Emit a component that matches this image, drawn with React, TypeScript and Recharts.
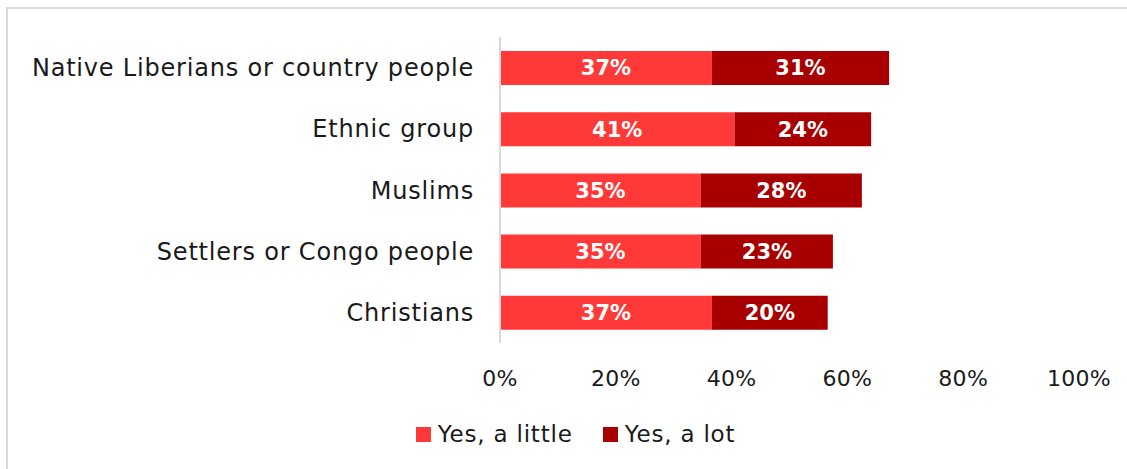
import React from 'react'
import { BarChart, Bar, XAxis, YAxis, Legend, LabelList } from 'recharts'

const categories = [
  'Native Liberians or country people',
  'Ethnic group',
  'Muslims',
  'Settlers or Congo people',
  'Christians',
]
const yesLittle = [36.6, 40.5, 34.7, 34.7, 36.6]
const yesLot = [30.6, 23.6, 27.8, 22.8, 20.0]
const littleLabels = ['37%', '41%', '35%', '35%', '37%']
const lotLabels = ['31%', '24%', '28%', '23%', '20%']
const xTicks = [0, 20, 40, 60, 80, 100]

const LIGHT = '#FF3838'
const DARK = '#A80000'
const FONT = '"DejaVu Sans", sans-serif'

const data = categories.map((name, i) => ({
  name,
  little: yesLittle[i],
  lot: yesLot[i],
  littleLabel: littleLabels[i],
  lotLabel: lotLabels[i],
}))

function LegendContent() {
  const items = [
    { label: 'Yes, a little', color: LIGHT },
    { label: 'Yes, a lot', color: DARK },
  ]
  return (
    <div style={{ display: 'flex', justifyContent: 'center', gap: 30, fontFamily: FONT, fontSize: 23, letterSpacing: 0.8, color: '#1a1a1a', paddingLeft: 72 }}>
      {items.map((it) => (
        <span key={it.label} style={{ display: 'flex', alignItems: 'center', gap: 7 }}>
          <span style={{ width: 15, height: 15, background: it.color, display: 'inline-block' }} />
          {it.label}
        </span>
      ))}
    </div>
  )
}

export default function App() {
  return (
    <div style={{ position: 'absolute', left: 0, top: 0, width: 1127, height: 469, background: '#fff', overflow: 'hidden' }}>
      <div style={{ position: 'absolute', left: 6, top: 7, width: 1200, height: 500, borderLeft: '2px solid #d9d9d9', borderTop: '2px solid #d9d9d9' }} />
      <div style={{ position: 'absolute', left: 0, top: 0 }}>
        <BarChart
          width={1127}
          height={469}
          data={data}
          layout="vertical"
          margin={{ top: 37, right: 48, bottom: 18, left: 0 }}
          barSize={34}
        >
          <XAxis
            type="number"
            domain={[0, 100]}
            ticks={xTicks}
            tickFormatter={(v) => `${v}%`}
            axisLine={false}
            tickLine={false}
            tickSize={0}
            tickMargin={27}
            height={78}
            interval={0}
            tick={{ fill: '#1a1a1a', fontSize: 22, fontFamily: FONT, letterSpacing: 0.3 }}
          />
          <YAxis
            type="category"
            dataKey="name"
            width={500}
            axisLine={{ stroke: '#d9d9d9', strokeWidth: 2 }}
            tickLine={false}
            tickSize={0}
            tickMargin={26}
            interval={0}
            tick={{ fill: '#1a1a1a', fontSize: 24, fontFamily: FONT, letterSpacing: 0.8 }}
          />
          <Legend verticalAlign="bottom" height={30} content={<LegendContent />} />
          <Bar dataKey="little" name="Yes, a little" stackId="a" fill={LIGHT} isAnimationActive={false}>
            <LabelList dataKey="littleLabel" position="center" fill="#fff" fontSize={21} fontWeight="bold" fontFamily={FONT} />
          </Bar>
          <Bar dataKey="lot" name="Yes, a lot" stackId="a" fill={DARK} isAnimationActive={false}>
            <LabelList dataKey="lotLabel" position="center" fill="#fff" fontSize={21} fontWeight="bold" fontFamily={FONT} />
          </Bar>
        </BarChart>
      </div>
    </div>
  )
}
